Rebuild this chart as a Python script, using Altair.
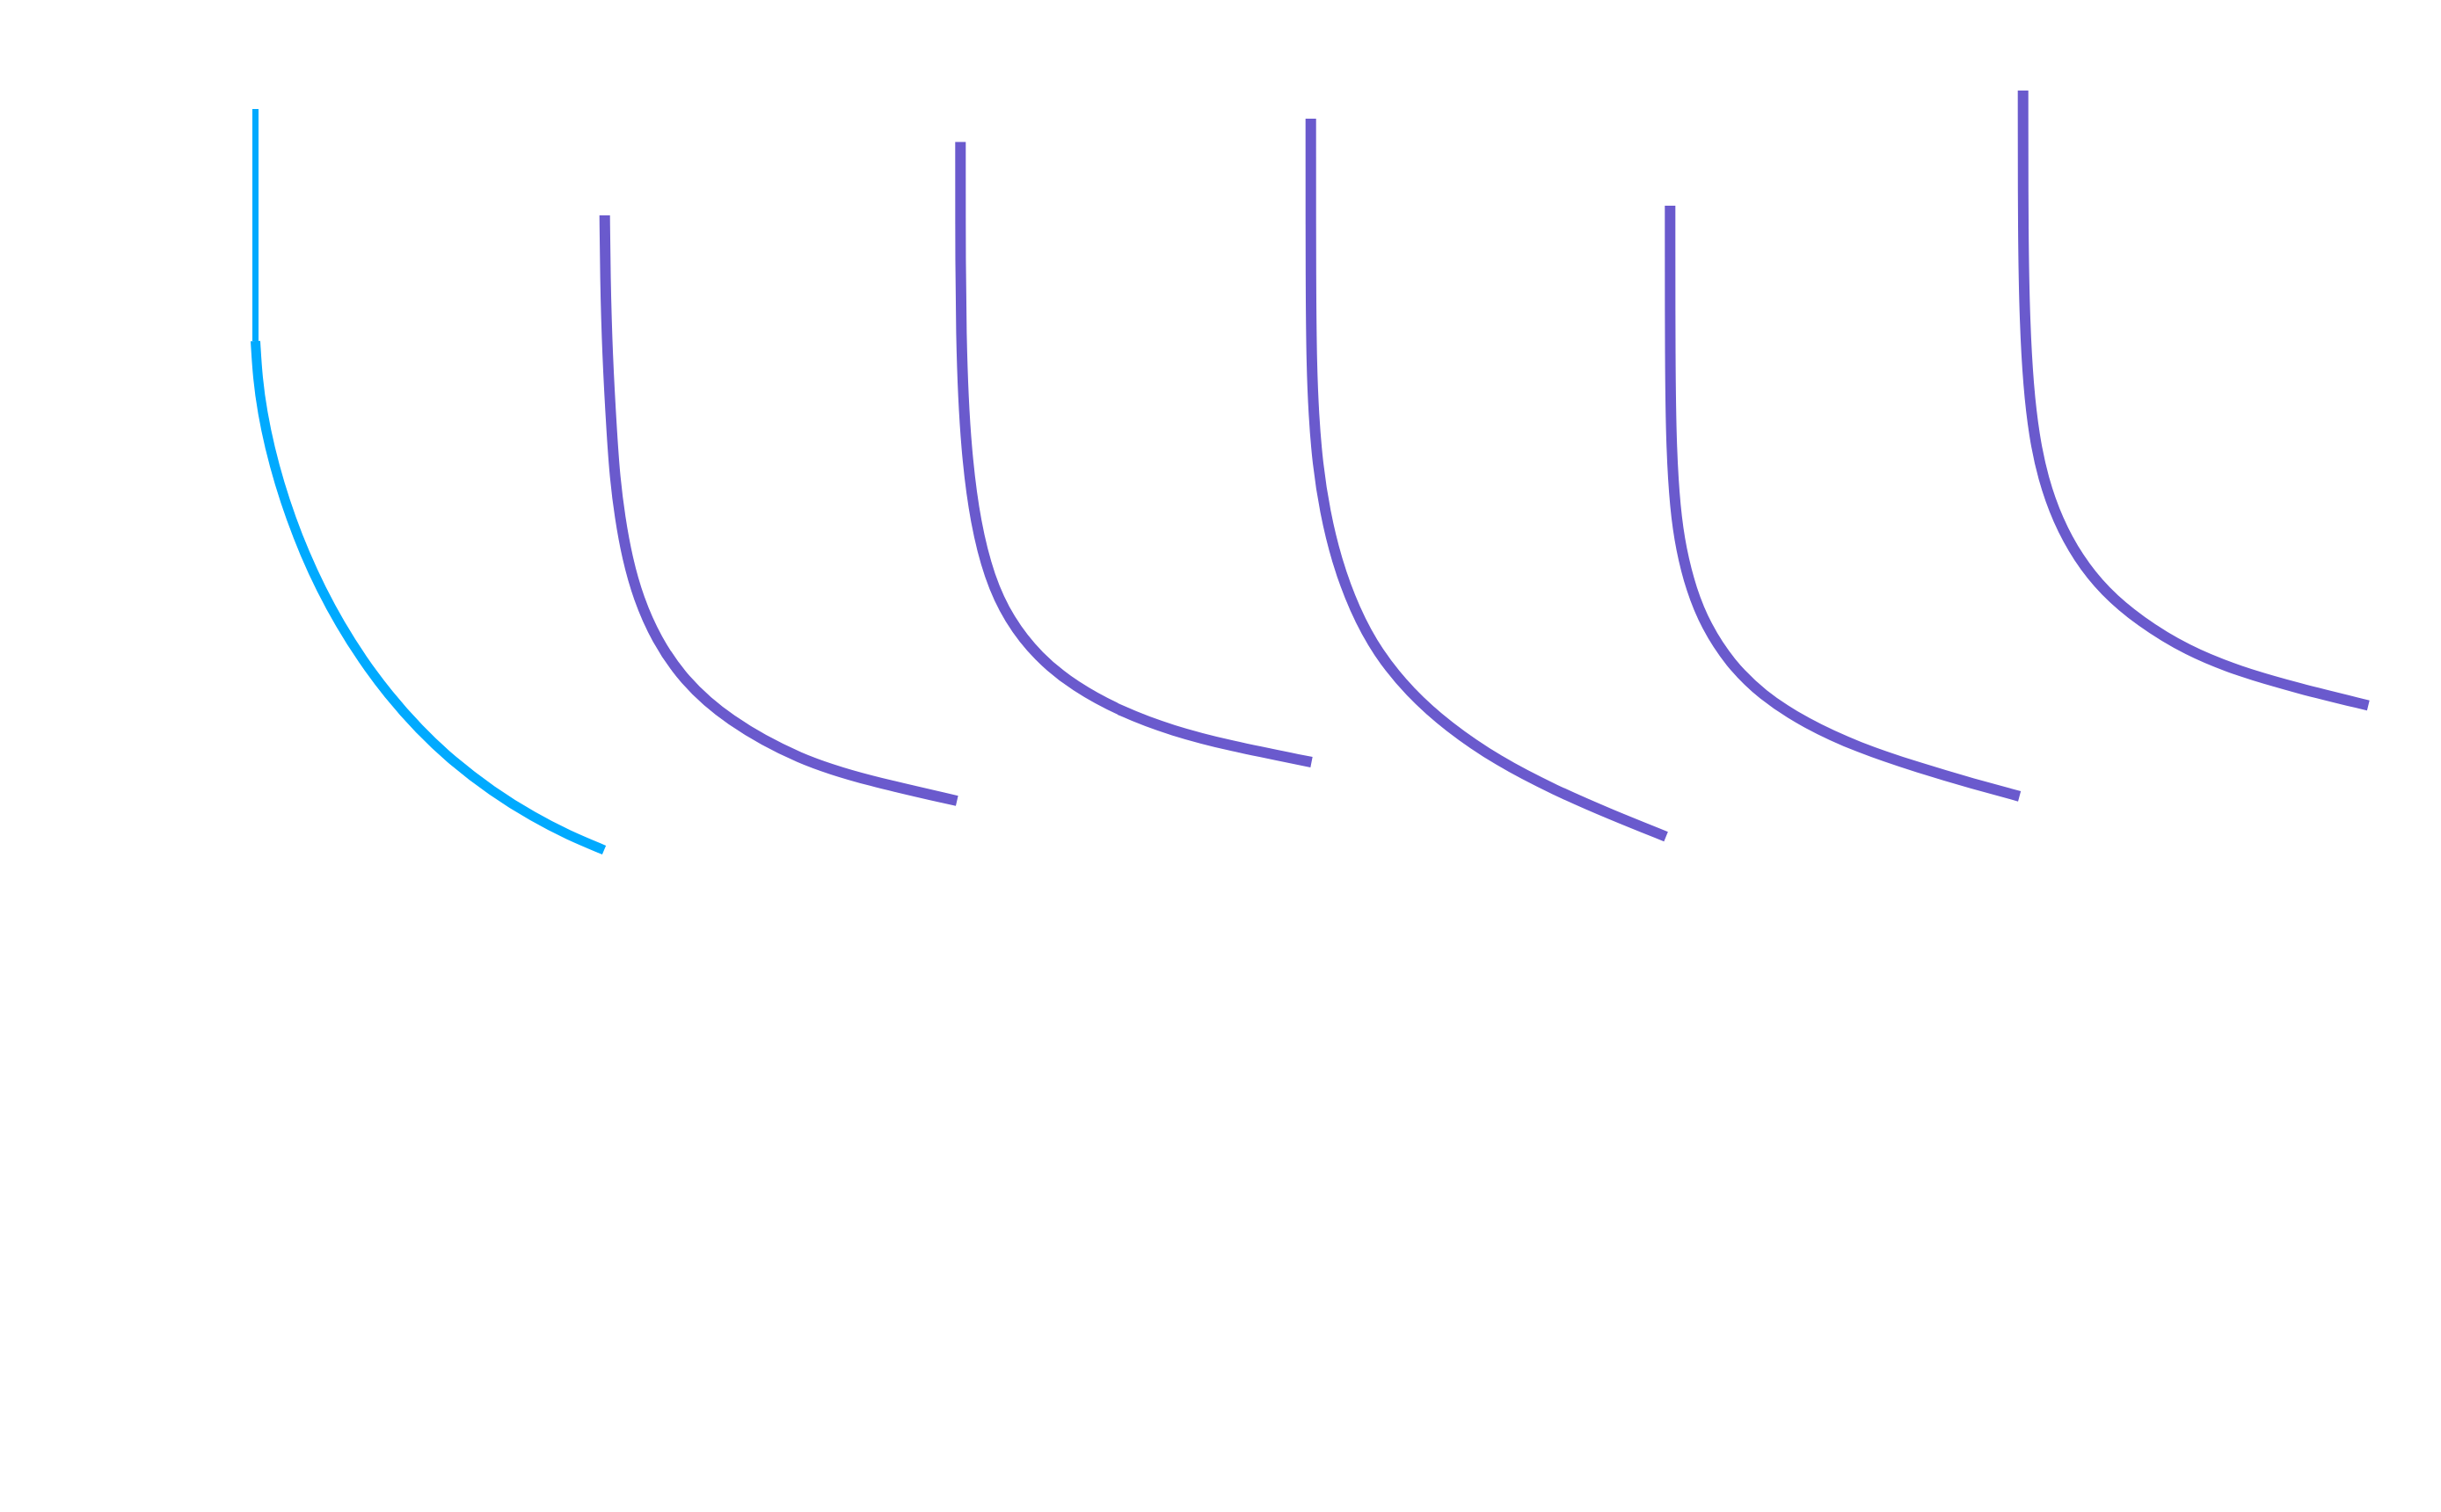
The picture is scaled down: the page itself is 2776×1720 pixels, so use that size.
import altair as alt
import pandas as pd

# Six decay curves
series_names = ["A", "B", "C", "D", "E", "F"]

A_t = [28.25, 28.25, 28.25, 28.5, 29.06, 29.9, 30.98, 32.3, 33.86, 35.7, 37.86, 40.38, 43.34, 46.86, 50.57, 55.12, 59.92, 63.82, 67.9]
A_v = [158.4, 143.8, 132.0, 127.8, 123.8, 119.8, 115.8, 111.8, 107.8, 103.8, 99.8, 95.8, 91.8, 87.8, 84.3, 80.8, 77.8, 75.8, 74.1]

B_t = [67.97, 68.03, 68.27, 68.8, 69.13, 69.7, 70.53, 71.8, 73.8, 76.87, 81.87, 90.2, 97.87, 108.03]
B_v = [146.3, 139.6, 130.4, 121.15, 116.54, 111.93, 107.32, 102.72, 98.11, 93.5, 88.9, 84.3, 82.0, 79.7]

C_t = [108.43, 108.43, 108.52, 108.73, 109.2, 110.13, 111.69, 113.9, 117.26, 121.41, 126.77, 132.58, 138.85, 148.35]
C_v = [154.65, 140.05, 132.9, 125.7, 118.5, 111.35, 105.13, 100.33, 96.02, 92.7, 89.8, 87.65, 86.0, 84.1]

D_t = [148.27, 148.27, 148.37, 148.6, 149.03, 149.87, 151.2, 153.2, 155.87, 159.53, 163.87, 169.53, 176.04, 182.41, 188.66]
D_v = [157.3, 137.6, 129.24, 123.7, 118.13, 112.6, 107.02, 101.5, 96.5, 92.02, 88.13, 84.24, 80.9, 78.13, 75.63]

E_t = [189.13, 189.13, 189.27, 189.7, 190.37, 191.53, 193.2, 195.87, 199.53, 204.53, 210.53, 217.46, 223.72, 228.86]
E_v = [147.4, 129.1, 119.85, 112.93, 108.33, 103.72, 99.6, 95.43, 91.74, 88.51, 85.75, 83.44, 81.6, 80.21]

F_t = [229.27, 229.27, 229.47, 229.87, 230.53, 231.53, 233.2, 235.53, 238.53, 242.53, 247.87, 253.87, 260.53, 268.53]
F_v = [160.5, 143.66, 134.1, 126.91, 121.2, 116.4, 111.6, 107.3, 103.5, 100.12, 96.8, 94.4, 92.5, 90.55]

series_t = [A_t, B_t, C_t, D_t, E_t, F_t]
series_v = [A_v, B_v, C_v, D_v, E_v, F_v]

rows = []
for name, ts, vs in zip(series_names, series_t, series_v):
    for i, (t, v) in enumerate(zip(ts, vs)):
        rows.append({"series": name, "i": i, "t": t, "v": v})
df = pd.DataFrame(rows)

BLUE = "#00AAFF"
PURPLE = "#6A5ACD"

x_enc = alt.X("t:Q", scale=alt.Scale(domain=[0, 276], nice=False, zero=False), axis=None)
y_enc = alt.Y("v:Q", scale=alt.Scale(domain=[0, 170], nice=False, zero=False), axis=None)
color_enc = alt.Color(
    "series:N",
    scale=alt.Scale(domain=series_names, range=[BLUE] + [PURPLE] * 5),
    legend=None,
)

base = alt.Chart(df).encode(
    x=x_enc, y=y_enc, color=color_enc, detail="series:N", order=alt.Order("i:Q")
)

purple = base.transform_filter(alt.datum.series != "A").mark_line(
    strokeWidth=12, interpolate="basis"
)
blue_top = base.transform_filter((alt.datum.series == "A") & (alt.datum.i <= 2)).mark_line(
    strokeWidth=7, interpolate="linear"
)
blue_rest = base.transform_filter((alt.datum.series == "A") & (alt.datum.i >= 2)).mark_line(
    strokeWidth=11, interpolate="basis"
)

chart = (
    alt.layer(purple, blue_top, blue_rest)
    .properties(width=2760, height=1700, padding=0, autosize="none", background="white")
    .configure_view(stroke=None)
)

chart.save("out.html", embed_options={"renderer": "svg", "actions": False})
